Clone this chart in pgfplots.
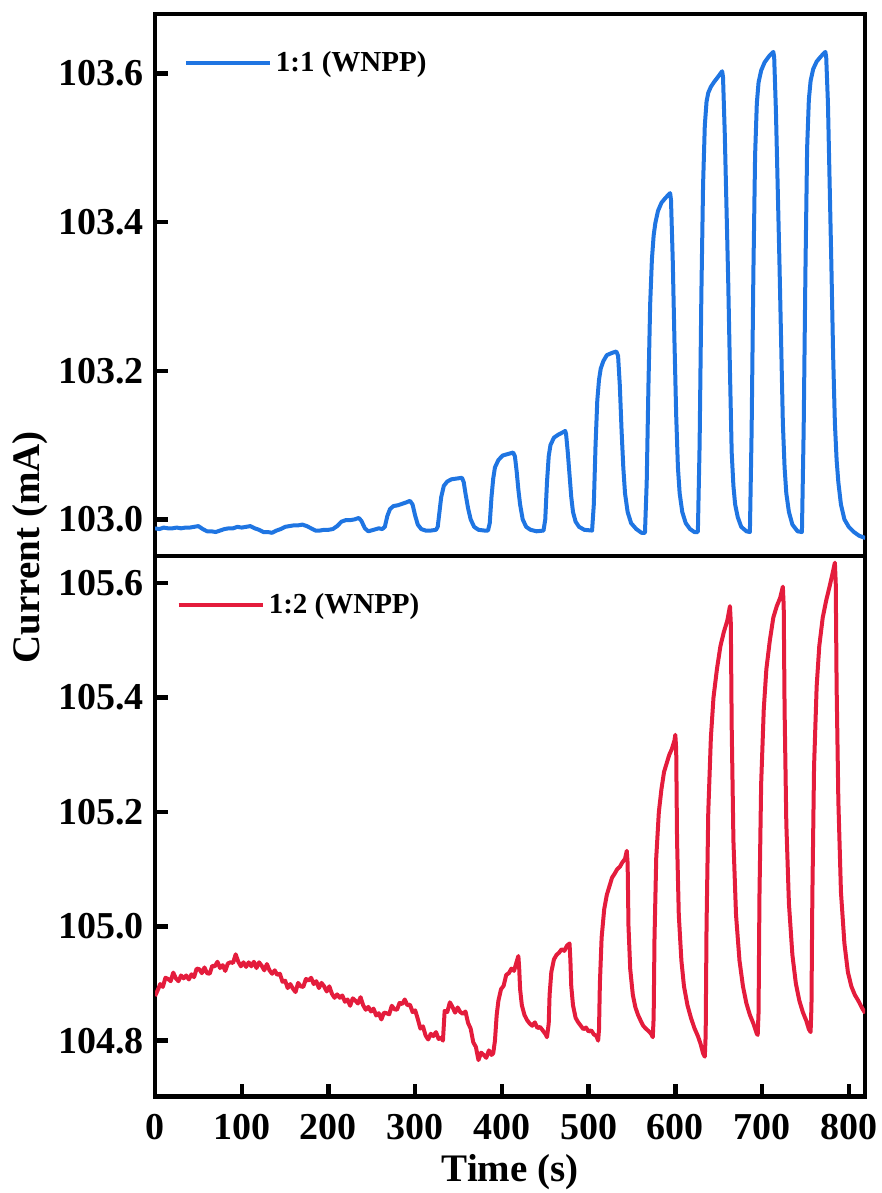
\documentclass[border=0pt]{standalone}
\usepackage{pgfplots}
\pgfplotsset{compat=1.18}
\usepackage{fontspec}
\setmainfont{Liberation Serif}
\definecolor{cblue}{RGB}{31,117,226}
\definecolor{cred}{RGB}{228,28,60}
\pgfplotsset{
  common/.style={
    scale only axis, width=355pt,
    xmin=0, xmax=819,
    axis line style={line width=2.2pt, line cap=rect},
    major tick style={black, line width=2.2pt},
    major tick length=6.5pt,
    tick align=inside,
    xtick pos=left, ytick pos=left,
    /pgf/number format/assume math mode=true,
    tick label style={font=\fontsize{19}{19}\selectfont\bfseries},
    yticklabel style={/pgf/number format/fixed, /pgf/number format/precision=1, /pgf/number format/fixed zerofill, xshift=-2pt},
    scaled y ticks=false,
    legend style={draw=none, fill=none, font=\fontsize{14.5}{14.5}\selectfont\bfseries, anchor=west, inner sep=0pt},
    legend image code/.code={\draw[##1] (0pt,0pt) -- (42pt,0pt);},
    legend cell align=left,
  }
}
\begin{document}
\begin{tikzpicture}
\path[use as bounding box] (-77.5pt,-48.15pt) rectangle (363pt,548.2pt);
\begin{axis}[common, name=top, at={(0pt,270.35pt)}, anchor=south west, height=270.85pt,
  ymin=102.951, ymax=103.68, ytick={103.0,103.2,103.4,103.6}, xtick=\empty,
  legend style={at={(rel axis cs:0.04,0.91)}}]
\addplot[cblue, line width=2pt, line join=round] coordinates {
(0,102.988) (5,102.987) (10,102.989) (15,102.988) (20,102.988) (25,102.989) (30,102.988) (35,102.989) (40,102.989) (45,102.990) (50,102.991) (55,102.987) (60,102.984) (65,102.984) (70,102.983) (75,102.985) (80,102.987) (85,102.988) (90,102.988) (95,102.990) (100,102.989) (105,102.990) (110,102.991) (115,102.988) (120,102.986) (125,102.983) (130,102.983) (135,102.982) (140,102.985) (145,102.987) (150,102.990) (155,102.991) (160,102.992) (165,102.992) (170,102.993) (175,102.991) (180,102.988) (185,102.985) (190,102.985) (195,102.986) (200,102.986) (205,102.987) (210,102.991) (215,102.997) (220,102.999) (225,102.999) (230,103.000) (235,103.002) (238,102.998) (242,102.988) (246,102.984) (252,102.986) (258,102.988)
(262,102.987)(265,102.990)(268,103.005)(271,103.014)(275,103.018)(280,103.019)(285,103.021)(290,103.023)(294,103.025)(297,103.020)(300,103.005)(303,102.993)(307,102.987)(312,102.985)(318,102.985)(324,102.986)
(326,102.990)(328,103.010)(330,103.030)(333,103.045)(337,103.051)(342,103.054)(348,103.055)(354,103.056)(356,103.050)(358,103.035)(361,103.015)(364,103.000)(368,102.990)(373,102.986)(380,102.985)
(384,102.985)(386,102.995)(388,103.030)(390,103.055)(392,103.070)(396,103.080)(401,103.086)(407,103.088)(413,103.090)(415,103.085)(417,103.065)(419,103.040)(421,103.020)(424,103.000)(428,102.990)(433,102.986)(440,102.984)
(448,102.985)(450,103.000)(452,103.050)(454,103.085)(456,103.100)(460,103.110)(465,103.114)(470,103.117)(473,103.119)(474,103.115)(476,103.090)(478,103.060)(480,103.030)(482,103.010)(485,102.997)(489,102.990)(495,102.986)
(504,102.985)(506,103.020)(508,103.100)(510,103.160)(512,103.188)(514,103.203)(517,103.213)(521,103.221)(527,103.224)(532,103.226)(534,103.220)(536,103.180)(538,103.120)(540,103.070)(542,103.035)(545,103.010)(549,102.995)(555,102.987)(561,102.982)
(565,102.982)(567,103.050)(569,103.180)(571,103.290)(573,103.350)(575,103.382)(577,103.399)(580,103.415)(584,103.426)(589,103.433)(594,103.439)(595,103.430)(597,103.350)(599,103.240)(601,103.140)(603,103.070)(605,103.035)(608,103.010)(612,102.995)(617,102.987)(622,102.983)
(626,102.983)(628,103.100)(630,103.300)(632,103.450)(634,103.530)(636,103.562)(638,103.574)(641,103.582)(645,103.589)(649,103.595)(654,103.603)(655,103.595)(657,103.520)(659,103.420)(661,103.320)(663,103.200)(665,103.090)(667,103.045)(669,103.020)(672,103.003)(676,102.990)(682,102.984)
(686,102.983)(688,103.120)(690,103.330)(692,103.490)(694,103.560)(696,103.588)(699,103.604)(703,103.615)(708,103.623)(713,103.629)(714,103.622)(716,103.550)(718,103.450)(720,103.350)(722,103.240)(724,103.130)(726,103.070)(728,103.035)(731,103.010)(735,102.993)(741,102.984)
(746,102.983)(748,103.120)(750,103.330)(752,103.500)(754,103.565)(756,103.590)(759,103.606)(763,103.616)(768,103.623)(773,103.629)(774,103.622)(776,103.560)(778,103.450)(780,103.340)(782,103.220)(784,103.130)(786,103.080)(788,103.050)(791,103.020)(795,103.000)(800,102.990)(806,102.983)(812,102.978)(819,102.975)
};
\addlegendentry{1:1 (WNPP)}
\end{axis}
\begin{axis}[common, name=bot, at={(0pt,0pt)}, anchor=south west, height=270.35pt,
  ymin=104.702, ymax=105.648, ytick={104.8,105.0,105.2,105.4,105.6},
  xtick={0,100,200,300,400,500,600,700,800}, xticklabel style={yshift=-5pt},
  xlabel={Time (s)}, xlabel style={font=\fontsize{19.5}{19.5}\selectfont\bfseries, at={(axis description cs:0.5,0)}, anchor=center, yshift=-37.65pt},
  legend style={at={(rel axis cs:0.03,0.91)}}]
\addplot[cred, line width=2pt, line join=round] coordinates {
(0,104.878)(3,104.888)(6,104.899)(9,104.894)(12,104.910)(15,104.908)(18,104.904)(21,104.919)(24,104.909)(27,104.904)(30,104.914)(33,104.909)(36,104.914)(39,104.907)(42,104.916)(45,104.911)(48,104.926)(51,104.925)(54,104.918)(57,104.928)(60,104.918)(63,104.917)(66,104.931)(69,104.930)(72,104.938)(75,104.927)(78,104.932)(81,104.922)(84,104.935)(87,104.937)(90,104.936)(93,104.951)(96,104.938)(99,104.930)(102,104.937)(105,104.929)(108,104.937)(111,104.930)(114,104.938)(117,104.927)(120,104.937)(123,104.931)(126,104.923)(129,104.934)(132,104.923)(135,104.917)(138,104.923)(141,104.915)(144,104.917)(147,104.903)(150,104.905)(153,104.892)(156,104.899)(159,104.891)(162,104.885)(165,104.901)(168,104.895)(171,104.894)(174,104.908)(177,104.905)(180,104.910)(183,104.899)(186,104.904)(189,104.892)(192,104.901)(195,104.895)(198,104.886)(201,104.895)(204,104.882)(207,104.875)(210,104.881)(213,104.875)(216,104.879)(219,104.868)(222,104.872)(225,104.861)(228,104.874)(231,104.870)(234,104.865)(237,104.876)(240,104.862)(243,104.854)(246,104.859)(249,104.851)(252,104.856)(255,104.844)(258,104.848)(261,104.837)(264,104.849)(267,104.848)(270,104.846)(273,104.861)(276,104.855)(279,104.854)(282,104.866)(285,104.864)(288,104.872)(291,104.862)(294,104.863)(297,104.850)(300,104.853)(303,104.838)(306,104.821)(309,104.825)(312,104.809)(315,104.802)(318,104.812)(321,104.808)(324,104.815)(327,104.803)(330,104.805)(332,104.800)(334,104.852)(337,104.850)(340,104.867)(343,104.859)(346,104.849)(349,104.858)(352,104.850)(355,104.847)(358,104.851)(361,104.831)(364,104.821)(367,104.797)(370,104.789)(373,104.766)(376,104.779)(379,104.775)(382,104.770)(385,104.783)(388,104.775)(390,104.778)(392,104.800)(394,104.845)(396,104.870)(399,104.890)(402,104.896)(405,104.915)(408,104.918)(411,104.926)(414,104.922)(417,104.938)(419,104.948)(420,104.925)(421,104.890)(423,104.862)(426,104.845)(429,104.836)(432,104.830)(435,104.826)(438,104.832)(441,104.822)(444,104.824)(447,104.818)(450,104.812)(452,104.806)(454,104.830)(455,104.880)(457,104.920)(460,104.942)(463,104.950)(466,104.954)(469,104.960)(472,104.957)(475,104.966)(478,104.970)(479,104.940)(480,104.895)(482,104.862)(485,104.840)(488,104.832)(491,104.826)(494,104.820)(497,104.823)(500,104.816)(503,104.818)(506,104.811)(509,104.808)(511,104.800)(512,104.820)(513,104.900)(515,104.980)(518,105.030)(521,105.055)(524,105.070)(527,105.085)(530,105.092)(533,105.100)(536,105.104)(539,105.112)(542,105.118)(544,105.132)(545,105.110)(546,105.000)(548,104.925)(551,104.880)(554,104.858)(557,104.845)(560,104.835)(563,104.826)(566,104.821)(569,104.817)(572,104.812)(574,104.806)(575,104.840)(576,104.980)(578,105.120)(581,105.200)(584,105.240)(587,105.270)(590,105.285)(593,105.300)(596,105.310)(599,105.325)(600,105.335)(601,105.310)(602,105.150)(604,105.020)(607,104.940)(610,104.895)(614,104.862)(618,104.840)(622,104.822)(626,104.808)(629,104.795)(632,104.778)(634,104.772)(635,104.810)(636,105.000)(638,105.200)(641,105.330)(644,105.400)(648,105.450)(652,105.490)(656,105.515)(660,105.535)(663,105.560)(664,105.530)(665,105.350)(667,105.150)(670,105.020)(674,104.940)(678,104.895)(682,104.865)(686,104.845)(690,104.830)(694,104.812)(695,104.810)(696,104.850)(697,105.050)(699,105.250)(702,105.380)(705,105.450)(709,105.500)(713,105.540)(717,105.560)(721,105.575)(724,105.594)(725,105.560)(726,105.380)(728,105.180)(731,105.040)(735,104.950)(739,104.900)(743,104.870)(747,104.850)(751,104.835)(754,104.820)(756,104.815)(757,104.860)(758,105.050)(760,105.280)(763,105.420)(766,105.490)(770,105.540)(774,105.570)(778,105.595)(781,105.615)(784,105.636)(785,105.600)(786,105.420)(788,105.220)(791,105.060)(795,104.970)(799,104.920)(803,104.895)(807,104.880)(811,104.870)(815,104.858)(819,104.848)
};
\addlegendentry{1:2 (WNPP)}
\end{axis}
\node[rotate=90, font=\fontsize{19.5}{19.5}\selectfont\bfseries] at (-62.5pt,274.6pt) {Current (mA)};
\end{tikzpicture}
\end{document}
